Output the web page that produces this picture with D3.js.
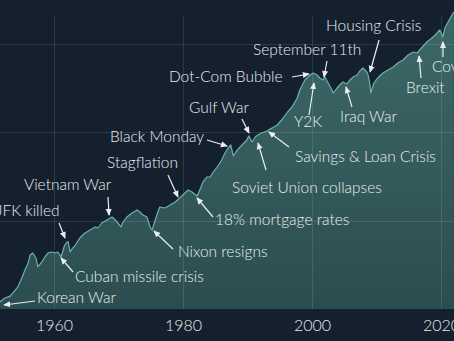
<!DOCTYPE html>
<html>
<head>
<meta charset="utf-8">
<script src="https://cdn.jsdelivr.net/npm/d3@7"></script>
<style>
  html, body { margin: 0; padding: 0; background: #14202e; overflow: hidden; }
  svg { display: block; }
</style>
</head>
<body>
<svg id="chart" width="454" height="341"></svg>
<script>
// Index level over time (log scale)
const years = [
  1951.6, 1952.4, 1953.2, 1954.0, 1954.4, 1955.0, 1955.5, 1956.0, 1956.3, 1956.7,
  1957.2, 1957.5, 1958.1, 1958.6, 1959.1, 1959.7, 1960.2, 1960.6, 1961.1, 1961.6,
  1962.0, 1962.2, 1962.5, 1962.8, 1963.3, 1964.0, 1964.8, 1965.6, 1966.4, 1966.8,
  1967.4, 1968.2, 1969.0, 1969.5, 1969.9, 1970.4, 1970.7, 1971.3, 1972.1, 1972.9,
  1973.3, 1973.8, 1974.4, 1974.9, 1975.2, 1975.7, 1976.1, 1976.4, 1977.2, 1978.0,
  1978.8, 1979.5, 1980.3, 1980.8, 1981.4, 1982.2, 1982.6, 1983.1, 1983.7, 1984.2,
  1984.7, 1985.3, 1986.0, 1986.5, 1987.0, 1987.4, 1987.8, 1988.2, 1988.7, 1989.3,
  1989.9, 1990.2, 1990.7, 1991.2, 1991.6, 1992.2, 1993.0, 1993.8, 1994.6, 1995.3,
  1996.1, 1996.9, 1997.7, 1998.1, 1998.9, 1999.7, 2000.2, 2000.8, 2001.2, 2001.7,
  2002.0, 2002.5, 2003.1, 2003.3, 2003.9, 2004.3, 2004.8, 2005.4, 2005.9, 2006.4,
  2007.0, 2007.4, 2007.9, 2008.5, 2008.7, 2009.0, 2009.1, 2009.6, 2010.2, 2011.0,
  2011.8, 2012.6, 2013.3, 2014.1, 2014.9, 2015.7, 2016.3, 2017.1, 2017.8, 2018.6,
  2019.4, 2019.8, 2020.3, 2020.6, 2021.1, 2021.7, 2022.0
];
const values = [
  12.0, 13.3, 14.0, 16.4, 17.8, 22.4, 27.6, 33.2, 40.9, 43.1,
  37.8, 29.9, 34.0, 38.8, 43.1, 44.2, 43.1, 44.2, 38.8, 51.7,
  57.4, 57.4, 44.2, 47.8, 53.0, 63.7, 72.5, 78.4, 84.8, 82.6,
  94.1, 101.8, 110.0, 101.8, 94.1, 84.8, 96.6, 110.0, 122.1, 132.1,
  125.3, 115.9, 110.0, 84.8, 78.4, 101.8, 125.3, 142.8, 139.1, 150.4,
  162.7, 180.6, 205.7, 222.4, 211.1, 190.2, 222.4, 274.1, 312.1, 312.1,
  355.6, 405.1, 486.3, 583.7, 664.9, 718.9, 539.8, 598.9, 664.9, 737.9,
  818.9, 909.1, 777.7, 885.7, 933.0, 983.0, 1035, 1120, 1211, 1380,
  1656, 1936, 2447, 3015, 3913, 4457, 4695, 4457, 4123, 3913,
  4231, 3618, 3015, 2788, 3177, 3435, 3713, 3526, 3913, 4231,
  4457, 4947, 5350, 4820, 4457, 3435, 2788, 3618, 4123, 4695,
  5077, 5490, 6095, 6591, 7507, 8120, 7911, 9249, 10536, 11695,
  13319, 14403, 12003, 15175, 17747, 21299, 23030
];

const tickYears = [1960, 1980, 2000, 2020];
const gridValues = [100, 1000, 10000];

// Events: label, year, level the arrow points at
const eventLabels = [
  "Housing Crisis", "September 11th", "Dot-Com Bubble", "Y2K", "Iraq War",
  "Brexit", "Covid", "Gulf War", "Black Monday", "Stagflation",
  "Savings & Loan Crisis", "Soviet Union collapses", "18% mortgage rates",
  "Nixon resigns", "Cuban missile crisis", "Korean War", "JFK killed", "Vietnam War"
];
const eventYears = [
  2009.0, 2001.86, 1999.53, 2000.31, 2005.27,
  2016.59, 2020.31, 1990.23, 1986.82, 1979.22,
  1993.33, 1991.63, 1982.17,
  1975.50, 1961.09, 1952.25, 1961.71, 1968.53
];
const eventValues = [
  4820, 4231, 4575, 3618, 3262,
  7314, 10536, 983, 700.5, 185.3,
  1009, 757.5, 180.6,
  76.4, 37.8, 11.1, 63.7, 115.9
];

// Label placement relative to the arrow tip: [text dx, text dy, tail dx, tail dy]
const labelLayout = {
  "Housing Crisis":         [-44, -46,   9, -32],
  "September 11th":         [-71, -27,   3, -16],
  "Dot-Com Bubble":         [-140,  3, -17,   3],
  "Y2K":                    [-20,  39,  -5,  32],
  "Iraq War":               [ -6,  30,   6,  20],
  "Brexit":                 [-13,  32,   2,  22],
  "Covid":                  [-11,  25,   0,  15],
  "Gulf War":               [-60, -25,  -7, -14],
  "Black Monday":           [-117, -9, -20,  -6],
  "Stagflation":            [-71, -34, -10, -22],
  "Savings & Loan Crisis":  [ 26,  25,  20,  15],
  "Soviet Union collapses": [-26,  45,   8,  27],
  "18% mortgage rates":     [ 18,  22,  16,  19],
  "Nixon resigns":          [ 24,  21,  19,  18],
  "Cuban missile crisis":   [ 14,  19,  12,  14],
  "Korean War":             [ 33,  -7,  31,  -4],
  "JFK killed":             [-69, -27,  -6, -15],
  "Vietnam War":            [-85, -30,  -1, -18]
};

const W = 454, H = 341;
const svg = d3.select("#chart");

const x = d3.scaleLinear().domain([1960, 2020]).range([54, 441]);
const y = d3.scaleLog().domain([10, 10000]).range([309, 44]);
const plotTop = 15;
const base = y(10);

const series = years.map((yr, i) => ({ year: yr, value: values[i] }));

const defs = svg.append("defs");
const grad = defs.append("linearGradient")
  .attr("id", "areaFill").attr("x1", 0).attr("y1", 0).attr("x2", 0).attr("y2", 1);
grad.append("stop").attr("offset", "0%").attr("stop-color", "#3d6867");
grad.append("stop").attr("offset", "100%").attr("stop-color", "#2c4d50");

defs.append("marker")
  .attr("id", "head")
  .attr("viewBox", "0 0 8 8")
  .attr("refX", 7).attr("refY", 4)
  .attr("markerWidth", 7).attr("markerHeight", 7)
  .attr("markerUnits", "userSpaceOnUse")
  .attr("orient", "auto")
  .append("path").attr("d", "M0,0.5 L8,4 L0,7.5 Z").attr("fill", "#e8eeef");

// Area under the curve
svg.append("path")
  .datum(series)
  .attr("fill", "url(#areaFill)")
  .attr("d", d3.area().x(d => x(d.year)).y0(base).y1(d => y(d.value)));

// Grid
const grid = svg.append("g").attr("stroke", "rgba(255,255,255,0.11)").attr("stroke-width", 1);
grid.selectAll("line.h").data(gridValues).join("line")
  .attr("x1", 0).attr("x2", W)
  .attr("y1", d => Math.round(y(d)) + 0.5).attr("y2", d => Math.round(y(d)) + 0.5);
grid.selectAll("line.v").data(tickYears).join("line")
  .attr("x1", d => Math.round(x(d)) + 0.5).attr("x2", d => Math.round(x(d)) + 0.5)
  .attr("y1", plotTop).attr("y2", base);

// Curve
svg.append("path")
  .datum(series)
  .attr("fill", "none")
  .attr("stroke", "#6db1a9")
  .attr("stroke-width", 1.2)
  .attr("stroke-linejoin", "round")
  .attr("d", d3.line().x(d => x(d.year)).y(d => y(d.value)));

// Year axis
const axis = svg.append("g")
  .attr("transform", `translate(0,${base})`)
  .call(d3.axisBottom(x).tickValues(tickYears).tickFormat(d3.format("d")).tickSize(0).tickPadding(11));
axis.select(".domain").remove();
axis.selectAll("text")
  .attr("fill", "#e3e9ec")
  .style("font-family", "Lato, 'Open Sans', sans-serif")
  .style("font-weight", 300)
  .style("font-size", "16px");

// Event annotations
const events = eventLabels.map((label, i) => ({
  label, year: eventYears[i], value: eventValues[i], lay: labelLayout[label]
}));
const ann = svg.append("g");
ann.selectAll("line").data(events).join("line")
  .attr("x1", d => x(d.year) + d.lay[2])
  .attr("y1", d => y(d.value) + d.lay[3])
  .attr("x2", d => x(d.year))
  .attr("y2", d => y(d.value))
  .attr("stroke", "#e8eeef")
  .attr("stroke-width", 1.2)
  .attr("marker-end", "url(#head)");
ann.selectAll("text").data(events).join("text")
  .attr("x", d => x(d.year) + d.lay[0])
  .attr("y", d => y(d.value) + d.lay[1])
  .attr("dy", "0.35em")
  .attr("fill", "#e8eeef")
  .style("font-family", "Lato, 'Open Sans', sans-serif")
  .style("font-weight", 300)
  .style("font-size", "15.5px")
  .text(d => d.label);
</script>
</body>
</html>
